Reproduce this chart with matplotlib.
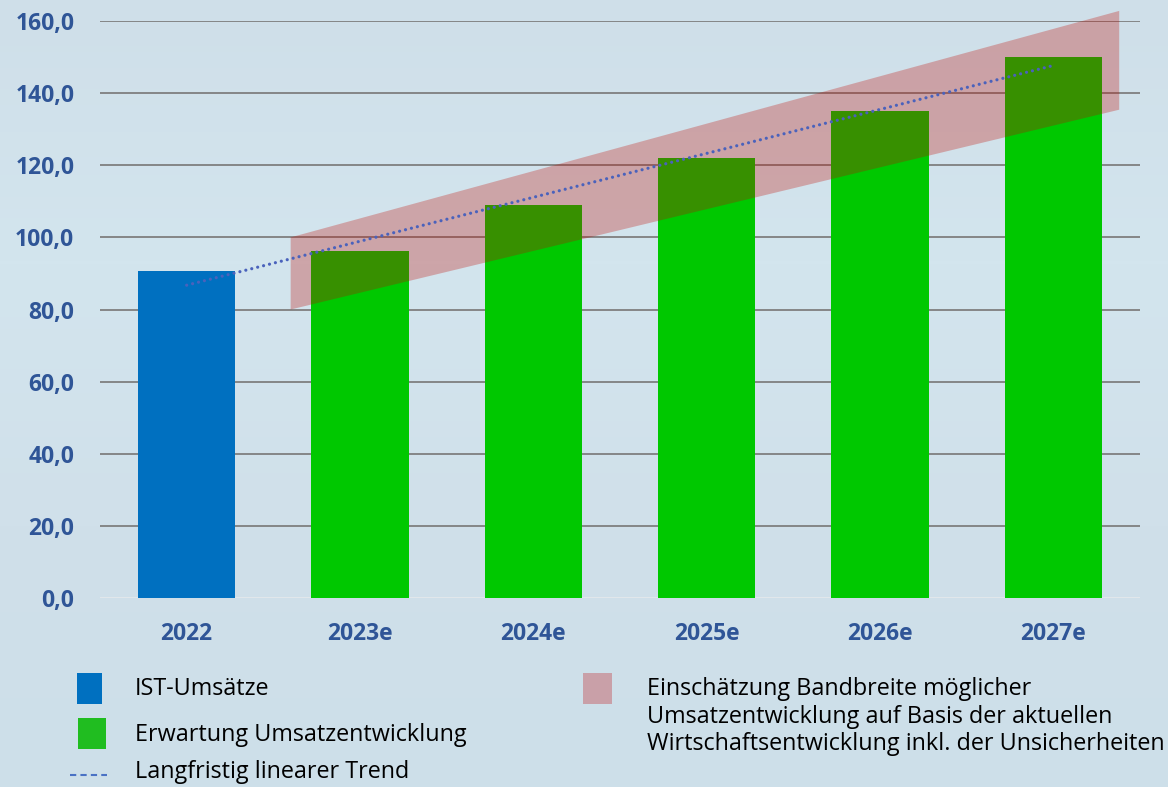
import numpy as np
import matplotlib.pyplot as plt
from matplotlib.patches import Rectangle, Polygon
from matplotlib.lines import Line2D

plt.rcParams['font.family'] = ['Open Sans', 'DejaVu Sans']

# data
years = ['2022', '2023e', '2024e', '2025e', '2026e', '2027e']
ist_values = [90.7]
forecast_values = [96.3, 109.0, 122.0, 135.1, 150.1]
band_x = [0.6, 5.38]
band_low = [80.0, 135.4]
band_high = [100.0, 162.8]

legend_labels = ['IST-Umsätze', 'Erwartung Umsatzentwicklung', 'Langfristig linearer Trend']
band_label_lines = ['Einschätzung Bandbreite möglicher',
                    'Umsatzentwicklung auf Basis der aktuellen',
                    'Wirtschaftsentwicklung inkl. der Unsicherheiten']

W, H = 1168, 787
fig = plt.figure(figsize=(W / 100, H / 100), dpi=100)
fig.patch.set_facecolor('#cfe2ec')

# soft background gradient (stand-in for the photo)
bg = fig.add_axes([0, 0, 1, 1], zorder=-10)
grad = np.linspace(0, 1, 256).reshape(-1, 1)
bg.imshow(grad, aspect='auto', cmap=plt.matplotlib.colors.LinearSegmentedColormap.from_list(
    'bg', ['#cfdfe9', '#d3e5ee', '#d0e0ea', '#cddfe9']), extent=[0, 1, 0, 1])
bg.axis('off')

ax = fig.add_axes([100 / W, 1 - 598 / H, 1040 / W, 577 / H])
ax.set_facecolor('none')

all_values = ist_values + forecast_values
x = np.arange(len(years))
bar_w = 0.56

ax.bar(x[:1], ist_values, width=bar_w, color='#0070c0', zorder=2)
ax.bar(x[1:], forecast_values, width=bar_w, color='#00c800', zorder=2)

# uncertainty band
poly = Polygon([(band_x[0], band_low[0]), (band_x[1], band_low[1]),
                (band_x[1], band_high[1]), (band_x[0], band_high[0])],
               closed=True, facecolor='#c00a00', alpha=0.29, edgecolor='none',
               zorder=3, clip_on=False)
ax.add_patch(poly)

# linear trend over all years
coef = np.polyfit(x, all_values, 1)
ax.plot(x, np.polyval(coef, x), linestyle=(0, (0.01, 1.9)), dash_capstyle='round',
        color='#4a62bc', linewidth=2.3, zorder=4)

ax.set_xlim(-0.5, 5.5)
ax.set_ylim(0, 160)
ax.set_yticks(np.arange(0, 161, 20))
ax.set_yticklabels([f'{v:.1f}'.replace('.', ',') for v in np.arange(0, 161, 20)])
ax.set_xticks(x)
ax.set_xticklabels(years)
for v in np.arange(20, 161, 20):
    ax.axhline(v, color='#7f7f7f', linewidth=1.3, zorder=1)
ax.axhline(0, color='#e4e8ec', linewidth=1.3, zorder=1)
for s in ax.spines.values():
    s.set_visible(False)
ax.tick_params(length=0, labelsize=16.5, labelcolor='#2f5597')
ax.tick_params(axis='y', pad=18.5)
ax.tick_params(axis='x', pad=17)
for lab in ax.get_xticklabels() + ax.get_yticklabels():
    lab.set_fontweight('bold')


def fx(px):
    return px / W


def fy(py):
    return 1 - py / H


# legend drawn by hand
fig.add_artist(Rectangle((fx(77), fy(704)), fx(102) - fx(77), fy(673) - fy(704),
                         transform=fig.transFigure, facecolor='#0070c0', edgecolor='none'))
fig.add_artist(Rectangle((fx(78), fy(749)), fx(106) - fx(78), fy(718) - fy(749),
                         transform=fig.transFigure, facecolor='#20bd20', edgecolor='none'))
fig.add_artist(Line2D([fx(70), fx(107)], [fy(775), fy(775)], transform=fig.transFigure,
                      color='#4a72c4', linewidth=1.5, linestyle=(0, (3, 2))))
fig.add_artist(Rectangle((fx(583), fy(704)), fx(612) - fx(583), fy(673) - fy(704),
                         transform=fig.transFigure, facecolor='#c9a0a8', edgecolor='none'))

fs = 16.8
fig.text(fx(135), fy(689), legend_labels[0], fontsize=fs, va='center', color='black')
fig.text(fx(135), fy(735), legend_labels[1], fontsize=fs, va='center', color='black')
fig.text(fx(135), fy(772), legend_labels[2], fontsize=fs, va='center', color='black')
for line, yc in zip(band_label_lines, [689, 717, 744]):
    fig.text(fx(647), fy(yc), line, fontsize=fs, va='center', color='black')

fig.savefig('out.png', dpi=100, facecolor=fig.get_facecolor())
